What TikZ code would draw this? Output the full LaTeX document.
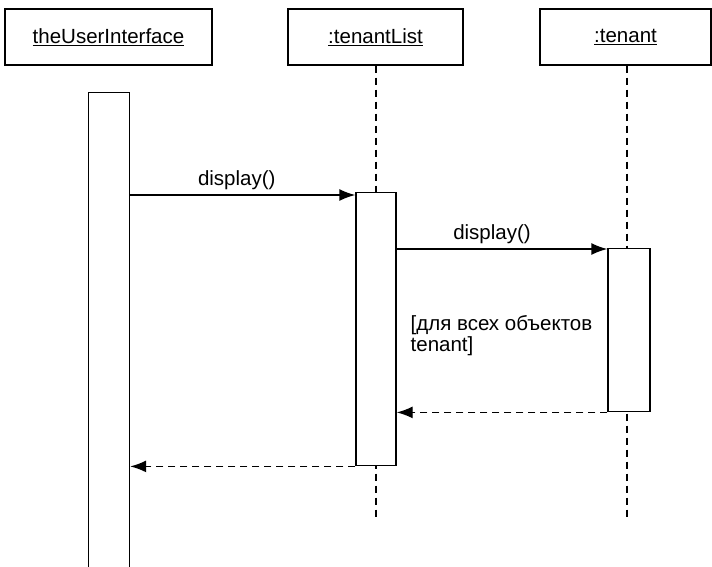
\documentclass[tikz,border=0pt]{standalone}
\usepackage{fontspec}
\setmainfont{Liberation Sans}
\usetikzlibrary{arrows.meta, positioning}

\begin{document}
\begin{tikzpicture}[x=1pt, y=-1pt, >={Latex[length=16pt,width=12pt]}, line width=1.4pt,
    obj/.style={draw, minimum width=#1, minimum height=56pt, inner sep=0pt,
                font=\fontsize{20.5}{24}\selectfont},
    act/.style={draw, fill=white, minimum width=41pt, inner sep=0pt},
    life/.style={dash pattern=on 7pt off 5pt},
    call/.style={->},
    ret/.style={->, dash pattern=on 7pt off 5pt},
    lbl/.style={font=\fontsize{20.5}{24}\selectfont}]
    \clip (0,0) rectangle (712,566);

    % 1. Объекты
    \node[obj=207pt] (ui) at (108.5,37) {\underline{theUserInterface}};
    \node[obj=175pt] (list) at (375.5,37) {\underline{:tenantList}};
    \node[obj=171pt] (ten) at (625.5,37) {\underline{:tenant}};

    % 2. Линии жизни
    \coordinate (listEnd) at (376,520);
    \coordinate (tenEnd) at (627,520);
    \draw[life] (list.south -| 376,0) -- (listEnd);
    \draw[life] (ten.south -| 627,0) -- (tenEnd);

    % 3. Активации
    \node[act, minimum height=490pt, anchor=north] (actUI) at (109,92) {};
    \node[act, minimum height=273pt, minimum width=40pt, anchor=north] (actList) at (376,192) {};
    \node[act, minimum height=163pt, minimum width=42pt, anchor=north] (actTen) at (629,248) {};

    % 4. Сообщения
    \draw[call] (actUI.east |- 0,195) -- (actList.west |- 0,195)
        node[lbl, midway, above=1pt, xshift=-6pt] {display()};
    \draw[call] (actList.east |- 0,249) -- (actTen.west |- 0,249)
        node[lbl, midway, above=1pt, xshift=-10pt] {display()};
    \node[lbl, anchor=north west, align=left, inner sep=0pt,
          font=\fontsize{20.5}{21}\selectfont] (guard) at (410,315)
        {[для всех объектов\\tenant]};

    % 5. Возвраты
    \draw[ret] (actTen.south west) -- (actList.east |- actTen.south west);
    \draw[ret] (actList.south west) -- (actUI.east |- actList.south west);
\end{tikzpicture}
\end{document}
